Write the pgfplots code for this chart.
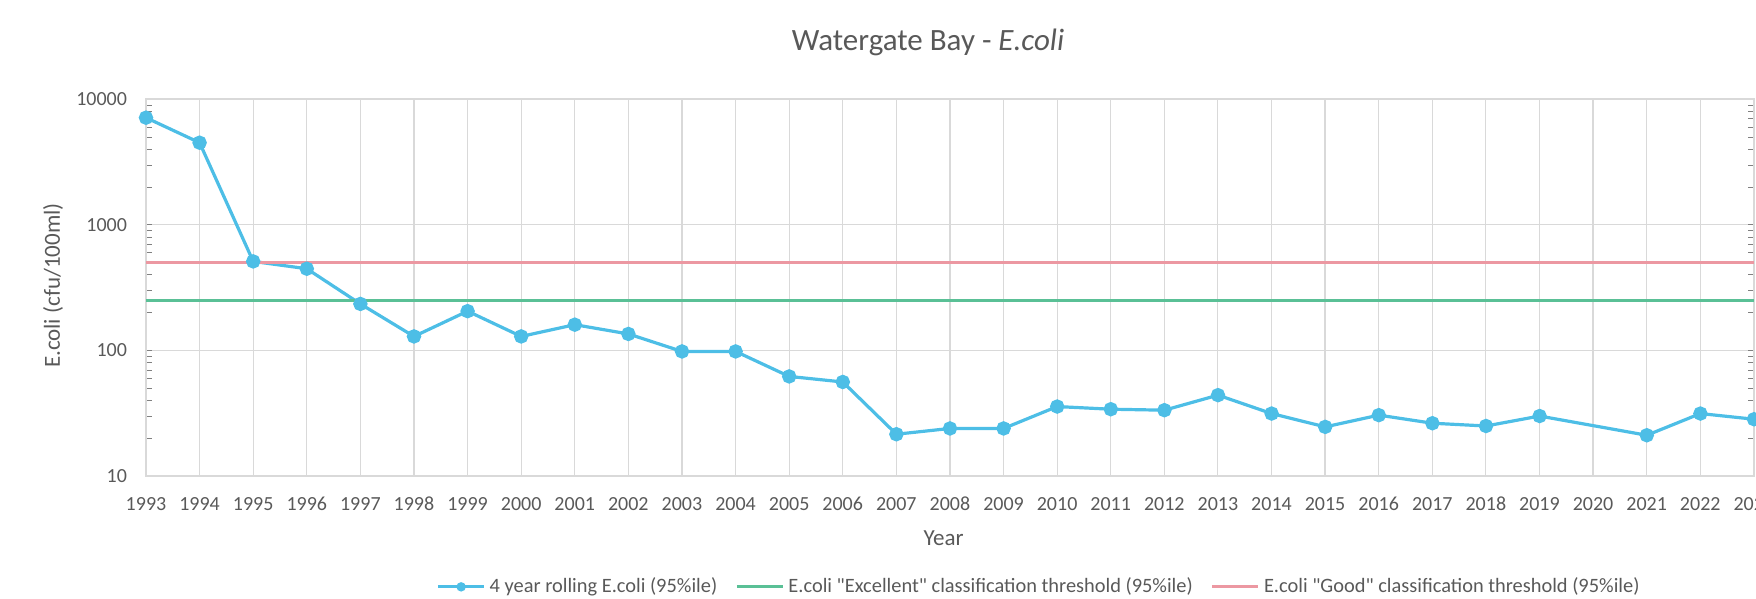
\documentclass[border=0pt]{standalone}
\usepackage{pgfplots}
\pgfplotsset{compat=1.18}
\usepackage{fontspec}
\setmainfont{Carlito}
\definecolor{txt}{RGB}{89,89,89}
\definecolor{ecblue}{RGB}{77,190,230}
\definecolor{ecgreen}{RGB}{90,192,150}
\definecolor{ecpink}{RGB}{236,152,162}
\definecolor{gridc}{RGB}{217,217,217}
\begin{document}
\begin{tikzpicture}
\useasboundingbox (-73bp,-61.5bp) rectangle (805bp,238bp);
\begin{axis}[
  at={(0,0)}, anchor=south west,
  scale only axis, width=804bp, height=188.5bp,
  ymode=log, ymin=10, ymax=10000,
  xmin=1993, xmax=2023,
  xtick={1993,1994,...,2023},
  ytick={10,100,1000,10000},
  yticklabels={10,100,1000,10000},
  /pgf/number format/1000 sep={},
  /pgf/number format/assume math mode=true,
  grid=major,
  major grid style={gridc, line width=0.6bp},
  axis line style={gridc, line width=0.6bp},
  major tick length=0pt,
  minor tick num=0,
  ticklabel style={font=\fontsize{10bp}{12bp}\selectfont, text=txt},
  yticklabel style={xshift=-6bp},
  xticklabel style={yshift=-7bp},
  xlabel={Year},
  ylabel={E.coli (cfu/100ml)},
  label style={font=\fontsize{11.5bp}{13bp}\selectfont, text=txt},
  xlabel style={at={(axis description cs:0.496,-0.165)}, anchor=center},
  ylabel style={at={(axis description cs:-0.0578,0.505)}, anchor=center},
  legend columns=3,
  legend image code/.code={\draw[mark repeat=2,mark phase=2,#1] plot coordinates {(0bp,0bp) (11.5bp,0bp) (23bp,0bp)};},
  legend style={draw=none, fill=none, at={(axis description cs:0.556,-0.294)}, anchor=center,
    font=\fontsize{10.2bp}{12bp}\selectfont, text=txt,
    /tikz/every even column/.append style={column sep=7bp}},
]
\addplot[ecblue, line width=1.6bp, mark=*, mark size=2.8bp, mark options={fill=ecblue, draw=ecblue},
  legend image post style={mark size=1.5bp}] coordinates {
(1993,7100) (1994,4490) (1995,510) (1996,446) (1997,234) (1998,129) (1999,205) (2000,129) (2001,160)
(2002,135) (2003,98) (2004,98) (2005,62) (2006,56) (2007,21.5) (2008,23.9) (2009,23.9) (2010,35.7)
(2011,34) (2012,33.4) (2013,44) (2014,31.4) (2015,24.6) (2016,30.5) (2017,26.3) (2018,25) (2019,30)
(2021,21.1) (2022,31.4) (2023,28.3)
};
\addlegendentry{4 year rolling E.coli (95\%ile)}
\addplot[ecgreen, line width=1.6bp] coordinates {(1993,250) (2023,250)};
\addlegendentry{E.coli \textquotedbl Excellent\textquotedbl{} classification threshold (95\%ile)}
\addplot[ecpink, line width=1.6bp] coordinates {(1993,500) (2023,500)};
\addlegendentry{E.coli \textquotedbl Good\textquotedbl{} classification threshold (95\%ile)}
\end{axis}
\node[text=txt, font=\fontsize{15.5bp}{18bp}\selectfont] at (391bp,217bp) {Watergate Bay - \textit{E.coli}};
\end{tikzpicture}
\end{document}
